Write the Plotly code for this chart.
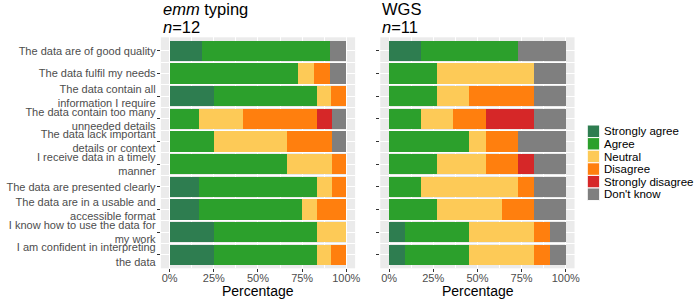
import plotly.graph_objects as go

questions = [
    "The data are of good quality",
    "The data fulfil my needs",
    "The data contain all<br>information I require",
    "The data contain too many<br>unneeded details",
    "The data lack important<br>details or context",
    "I receive data in a timely<br>manner",
    "The data are presented clearly",
    "The data are in a usable and<br>accessible format",
    "I know how to use the data for<br>my work",
    "I am confident in interpreting<br>the data",
]
responses = ["Strongly agree", "Agree", "Neutral", "Disagree", "Strongly disagree", "Don't know"]
colors = ["#2e7d50", "#2ca02c", "#fdca57", "#ff7f0e", "#d62728", "#7f7f7f"]

# emm typing (n=12), percentages
emm_sa = [18.2, 0, 25.0, 0, 0, 0, 16.7, 16.7, 25.0, 25.0]
emm_a = [72.7, 72.7, 58.3, 16.7, 25.0, 66.7, 66.7, 58.3, 58.3, 58.3]
emm_n = [0, 9.1, 8.3, 25.0, 41.7, 25.0, 8.3, 8.3, 16.7, 8.3]
emm_d = [0, 9.1, 8.3, 41.7, 25.0, 8.3, 8.3, 16.7, 0, 8.3]
emm_sd = [0, 0, 0, 8.3, 0, 0, 0, 0, 0, 0]
emm_dk = [9.1, 9.1, 0, 8.3, 8.3, 0, 0, 0, 0, 0]

# WGS (n=11), percentages
wgs_sa = [18.2, 0, 0, 0, 0, 0, 0, 0, 9.1, 9.1]
wgs_a = [54.5, 27.3, 27.3, 18.2, 45.5, 27.3, 18.2, 27.3, 36.4, 36.4]
wgs_n = [0, 54.5, 18.2, 18.2, 9.1, 27.3, 54.5, 36.4, 36.4, 36.4]
wgs_d = [0, 0, 36.4, 18.2, 18.2, 18.2, 9.1, 18.2, 9.1, 9.1]
wgs_sd = [0, 0, 0, 27.3, 0, 9.1, 0, 0, 0, 0]
wgs_dk = [27.3, 18.2, 18.2, 18.2, 27.3, 18.2, 18.2, 18.2, 9.1, 9.1]

x_ticks = [0, 25, 50, 75, 100]
x_tick_labels = ["0%", "25%", "50%", "75%", "100%"]

FONT = "Liberation Sans, Arial, sans-serif"
W, H = 698, 299

emm = [emm_sa, emm_a, emm_n, emm_d, emm_sd, emm_dk]
wgs = [wgs_sa, wgs_a, wgs_n, wgs_d, wgs_sd, wgs_dk]
ypos = list(range(len(questions)))

fig = go.Figure()
for panel, (data, xa, ya) in enumerate([(emm, "x", "y"), (wgs, "x2", "y2")]):
    for name, col, vals in zip(responses, colors, data):
        fig.add_trace(go.Bar(
            y=ypos, x=vals, orientation="h", name=name,
            marker=dict(color=col, line=dict(width=0)),
            xaxis=xa, yaxis=ya, showlegend=False,
        ))

PANEL_BOTTOM = 268.3
PANEL_TOP = 37.3

def xaxis(domain, anchor):
    return dict(
        domain=domain, anchor=anchor, range=[-5, 105],
        tickmode="array", tickvals=x_ticks, ticktext=x_tick_labels,
        ticks="outside", ticklen=3, tickcolor="#333333",
        ticklabelstandoff=-4,
        tickfont=dict(family=FONT, size=11, color="#4d4d4d"),
        showgrid=True, gridcolor="white", gridwidth=1.1, zeroline=False,
        minor=dict(tickvals=[12.5, 37.5, 62.5, 87.5], showgrid=True, gridcolor="white", gridwidth=0.5),
        showline=False,
    )

def yaxis(anchor, labels):
    return dict(
        domain=[(H - PANEL_BOTTOM) / H, (H - PANEL_TOP) / H], anchor=anchor,
        range=[len(questions) - 0.4, -0.6],
        tickmode="array", tickvals=ypos, ticktext=questions if labels else [""] * len(questions),
        showticklabels=labels,
        ticks="outside", ticklen=3, tickcolor="#333333",
        ticklabelstandoff=-1,
        tickfont=dict(family=FONT, size=11, color="#4d4d4d"),
        showgrid=True, gridcolor="white", gridwidth=1.1, zeroline=False,
        minor=dict(tickvals=[i + 0.5 for i in ypos[:-1]], showgrid=True, gridcolor="white", gridwidth=0.6),
    )

fig.update_layout(
    width=W, height=H, autosize=False,
    margin=dict(l=0, r=0, t=0, b=0),
    paper_bgcolor="white", plot_bgcolor="#ebebeb",
    barmode="stack", bargap=0.1,
    xaxis=xaxis([162 / W, 357.7 / W], "y"),
    xaxis2=xaxis([383 / W, 578.7 / W], "y2"),
    yaxis=yaxis("x", True),
    yaxis2=yaxis("x2", False),
    showlegend=False,
)

# axis titles
for xc in [(170.7 + 348.7) / 2, (392 + 570.3) / 2]:
    fig.add_annotation(x=xc / W, y=1 - 290.5 / H, xref="paper", yref="paper", text="Percentage",
                       showarrow=False, xanchor="center", yanchor="middle",
                       font=dict(family=FONT, size=14, color="black"))

# panel titles
for xpix, t1, t2 in [(162, "<i>emm</i> typing", "<i>n</i>=12"), (383, "WGS", "<i>n</i>=11")]:
    fig.add_annotation(x=xpix / W, y=1 - 9 / H, xref="paper", yref="paper", text=t1,
                       showarrow=False, xanchor="left", yanchor="middle",
                       font=dict(family=FONT, size=16.5, color="black"))
    fig.add_annotation(x=xpix / W, y=1 - 27 / H, xref="paper", yref="paper", text=t2,
                       showarrow=False, xanchor="left", yanchor="middle",
                       font=dict(family=FONT, size=16.5, color="black"))

# legend keys
step = 12.6
y0 = 131.3
for i, (name, col) in enumerate(zip(responses, colors)):
    yc = y0 + i * step
    fig.add_shape(type="rect", xref="paper", yref="paper",
                  x0=591.5 / W, x1=604 / W, y0=1 - (yc - step / 2) / H, y1=1 - (yc + step / 2) / H,
                  fillcolor=col, line=dict(color="white", width=1))
    fig.add_annotation(x=606.5 / W, y=1 - yc / H, xref="paper", yref="paper", text=name,
                       showarrow=False, xanchor="left", yanchor="middle",
                       font=dict(family=FONT, size=11.5, color="black"))

fig.write_html("out.html")
